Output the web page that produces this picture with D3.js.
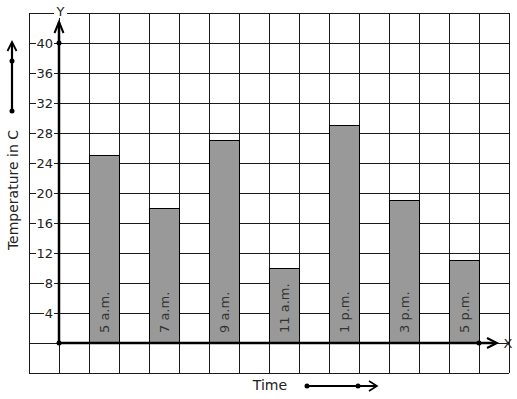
<!DOCTYPE html>
<html><head><meta charset="utf-8">
<script src="https://cdn.jsdelivr.net/npm/d3@7"></script>
<style>body{margin:0;background:#fff}svg{display:block}text{font-family:"DejaVu Sans",sans-serif}</style>
</head><body>
<svg id="c" width="517" height="399"></svg>
<script>
const categories = ["5 a.m.", "7 a.m.", "9 a.m.", "11 a.m.", "1 p.m.", "3 p.m.", "5 p.m."];
const temperatures = [25, 18, 27, 10, 29, 19, 11];
const yTickValues = [4, 8, 12, 16, 20, 24, 28, 32, 36, 40];
const yTickLabels = ["4", "8", "12", "16", "20", "24", "28", "32", "36", "40"];

const svg = d3.select("#c");
// grid columns: -1..15 ; rows: -4..44
const x = d3.scaleLinear().domain([-1, 15]).range([29, 509]);
const y = d3.scaleLinear().domain([-4, 44]).range([373, 13]);
const ink = "#1a1a1a";

// grid
const g = svg.append("g");
g.selectAll("line.v").data(d3.range(-1, 16)).join("line")
  .attr("x1", d => x(d)).attr("x2", d => x(d)).attr("y1", y(44)).attr("y2", y(-4))
  .attr("stroke", ink).attr("stroke-width", 1).attr("shape-rendering", "crispEdges");
g.selectAll("line.h").data(d3.range(-4, 48, 4)).join("line")
  .attr("y1", d => y(d)).attr("y2", d => y(d)).attr("x1", x(-1)).attr("x2", x(15))
  .attr("stroke", ink).attr("stroke-width", 1).attr("shape-rendering", "crispEdges");

// bars
svg.selectAll("rect.bar").data(temperatures).join("rect")
  .attr("x", (d, i) => x(1 + 2 * i)).attr("width", (d, i) => x(2 + 2 * i) - x(1 + 2 * i))
  .attr("y", d => y(d)).attr("height", d => y(0) - y(d))
  .attr("fill", "#999999").attr("stroke", "#000").attr("stroke-width", 1).attr("shape-rendering", "crispEdges");

svg.selectAll("text.bl").data(categories).join("text")
  .attr("transform", (d, i) => `translate(${(x(1 + 2 * i) + x(2 + 2 * i)) / 2 + 4.5},${y(0) - 10}) rotate(-90)`)
  .attr("font-size", 13).attr("fill", "#333").text(d => d);

// y tick labels with white background
const tl = svg.selectAll("g.tl").data(yTickValues).join("g")
  .attr("transform", d => `translate(53,${y(d)})`);
tl.append("rect").attr("x", (d, i) => -8 * yTickLabels[i].length - 1).attr("y", -7)
  .attr("width", (d, i) => 8 * yTickLabels[i].length + 2).attr("height", 14).attr("fill", "#fff");
tl.append("text").attr("text-anchor", "end").attr("dy", "0.36em").attr("font-size", 13)
  .attr("fill", "#222").text((d, i) => yTickLabels[i]);

// axes
svg.append("line").attr("x1", x(0)).attr("x2", x(0)).attr("y1", y(0)).attr("y2", 22)
  .attr("stroke", "#000").attr("stroke-width", 2.5);
svg.append("path").attr("d", `M${x(0) - 4.5},33 L${x(0)},22 L${x(0) + 4.5},33`)
  .attr("fill", "none").attr("stroke", "#000").attr("stroke-width", 2);
svg.append("line").attr("x1", x(0)).attr("x2", 496).attr("y1", y(0)).attr("y2", y(0))
  .attr("stroke", "#000").attr("stroke-width", 2.5);
svg.append("path").attr("d", `M487,${y(0) - 5} L497,${y(0)} L487,${y(0) + 5}`)
  .attr("fill", "none").attr("stroke", "#000").attr("stroke-width", 2);
[[x(0), y(0)], [x(0), y(40)], [x(14), y(0)]].forEach(p =>
  svg.append("circle").attr("cx", p[0]).attr("cy", p[1]).attr("r", 2.5).attr("fill", "#000"));

// Y and X letters
svg.append("rect").attr("x", 54).attr("y", 4).attr("width", 13).attr("height", 14).attr("fill", "#fff");
svg.append("text").attr("x", 60.5).attr("y", 15.5).attr("text-anchor", "middle").attr("font-size", 13).attr("fill", "#222").text("Y");
svg.append("text").attr("x", 508).attr("y", 347.5).attr("text-anchor", "middle").attr("font-size", 13).attr("fill", "#222").text("X");

// axis titles
svg.append("text").attr("transform", "translate(18,190) rotate(-90)").attr("text-anchor", "middle")
  .attr("font-size", 14).attr("fill", "#222").text("Temperature in C");
svg.append("text").attr("x", 270).attr("y", 390).attr("text-anchor", "middle")
  .attr("font-size", 14).attr("fill", "#222").text("Time");

// left decorative arrow
svg.append("line").attr("x1", 12).attr("x2", 12).attr("y1", 111).attr("y2", 43).attr("stroke", "#000").attr("stroke-width", 2.2);
svg.append("path").attr("d", "M7.5,51 L12,42 L16.5,51").attr("fill", "none").attr("stroke", "#000").attr("stroke-width", 1.8);
[61, 111].forEach(cy => svg.append("circle").attr("cx", 12).attr("cy", cy).attr("r", 2.5).attr("fill", "#000"));

// bottom decorative arrow
svg.append("line").attr("x1", 307).attr("x2", 376).attr("y1", 386).attr("y2", 386).attr("stroke", "#000").attr("stroke-width", 2);
svg.append("path").attr("d", "M369,381 L377,386 L369,391").attr("fill", "none").attr("stroke", "#000").attr("stroke-width", 1.6);
[307, 358].forEach(cx => svg.append("circle").attr("cx", cx).attr("cy", 386).attr("r", 2.5).attr("fill", "#000"));
</script>
</body></html>
